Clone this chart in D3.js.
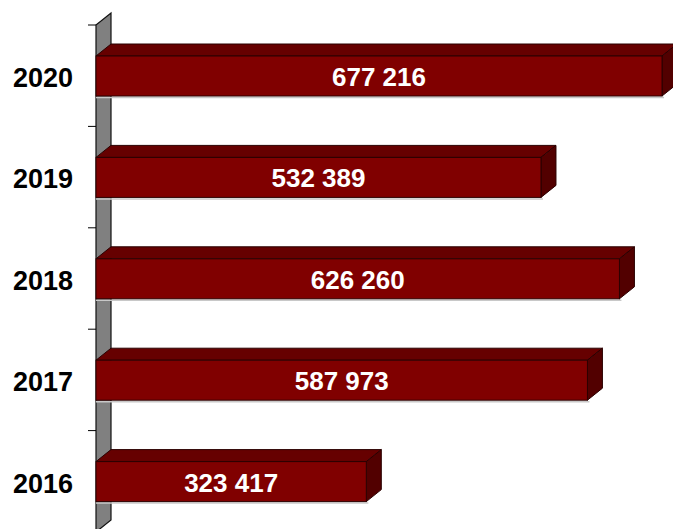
<!DOCTYPE html>
<html>
<head>
<meta charset="utf-8">
<script src="https://cdn.jsdelivr.net/npm/d3@7"></script>
<style>
  html, body { margin: 0; padding: 0; background: #fff; }
  svg { display: block; }
</style>
</head>
<body>
<script>
// Data
const years = ["2020", "2019", "2018", "2017", "2016"];
const values = [677216, 532389, 626260, 587973, 323417];
const valueLabels = ["677 216", "532 389", "626 260", "587 973", "323 417"];

const W = 673, H = 529;
const DX = 15, DY = -12;   // 3D depth offset
const svg = d3.select("body").append("svg").attr("width", W).attr("height", H);

const x = d3.scaleLinear().domain([0, 700000]).range([96, 96 + 700000 * 0.0008358]);
const y = d3.scaleBand().domain(years).range([25, 532]);
const barOffset = 31, barH = 40;

// Wall (gray slab on the left)
const x0 = x(0);
const yTop = y.range()[0], yBot = y.range()[1];
svg.append("path")
  .attr("d", `M${x0},${yTop} L${x0 + DX},${yTop + DY} L${x0 + DX},${yBot + DY} L${x0},${yBot} Z`)
  .attr("fill", "#808080").attr("stroke", "#111").attr("stroke-width", 1.2);

// Ticks on the axis
const tickYs = years.map(d => y(d)).concat([yBot]);
svg.selectAll("line.tick").data(tickYs).enter().append("line")
  .attr("x1", x0 - 8).attr("x2", x0).attr("y1", d => d).attr("y2", d => d)
  .attr("stroke", "#000").attr("stroke-width", 1);

// Bars
const bars = svg.selectAll("g.bar").data(years.map((yr, i) => ({ yr, v: values[i], lab: valueLabels[i] })))
  .enter().append("g").attr("class", "bar");

bars.each(function(d) {
  const g = d3.select(this);
  const t = y(d.yr) + barOffset, b = t + barH;
  const l = x(0), r = x(d.v);
  // shadow
  g.append("line").attr("x1", l).attr("x2", r + 2).attr("y1", b + 1.5).attr("y2", b + 1.5)
    .attr("stroke", "#c8c8c8").attr("stroke-width", 1.5);
  // top face
  g.append("path")
    .attr("d", `M${l},${t} L${l + DX},${t + DY} L${r + DX},${t + DY} L${r},${t} Z`)
    .attr("fill", "#660000").attr("stroke", "#2a0000").attr("stroke-width", 1).attr("stroke-linejoin", "round");
  // side face
  g.append("path")
    .attr("d", `M${r},${t} L${r + DX},${t + DY} L${r + DX},${b + DY} L${r},${b} Z`)
    .attr("fill", "#520000").attr("stroke", "#2a0000").attr("stroke-width", 1).attr("stroke-linejoin", "round");
  // front face
  g.append("rect").attr("x", l).attr("y", t).attr("width", r - l).attr("height", barH)
    .attr("fill", "#800000").attr("stroke", "#2a0000").attr("stroke-width", 1);
  // value label
  g.append("text").attr("x", (l + r) / 2).attr("y", t + barH / 2 + 1)
    .attr("text-anchor", "middle").attr("dominant-baseline", "central")
    .attr("font-family", "Liberation Sans, Arial, sans-serif").attr("font-weight", "bold")
    .attr("font-size", 26).attr("fill", "#fff").text(d.lab);
});

// Category labels
svg.selectAll("text.cat").data(years).enter().append("text")
  .attr("class", "cat")
  .attr("x", 73).attr("y", d => y(d) + barOffset + barH / 2 + 2)
  .attr("text-anchor", "end").attr("dominant-baseline", "central")
  .attr("font-family", "Liberation Sans, Arial, sans-serif").attr("font-weight", "bold")
  .attr("font-size", 27).attr("fill", "#000").text(d => d);
</script>
</body>
</html>
